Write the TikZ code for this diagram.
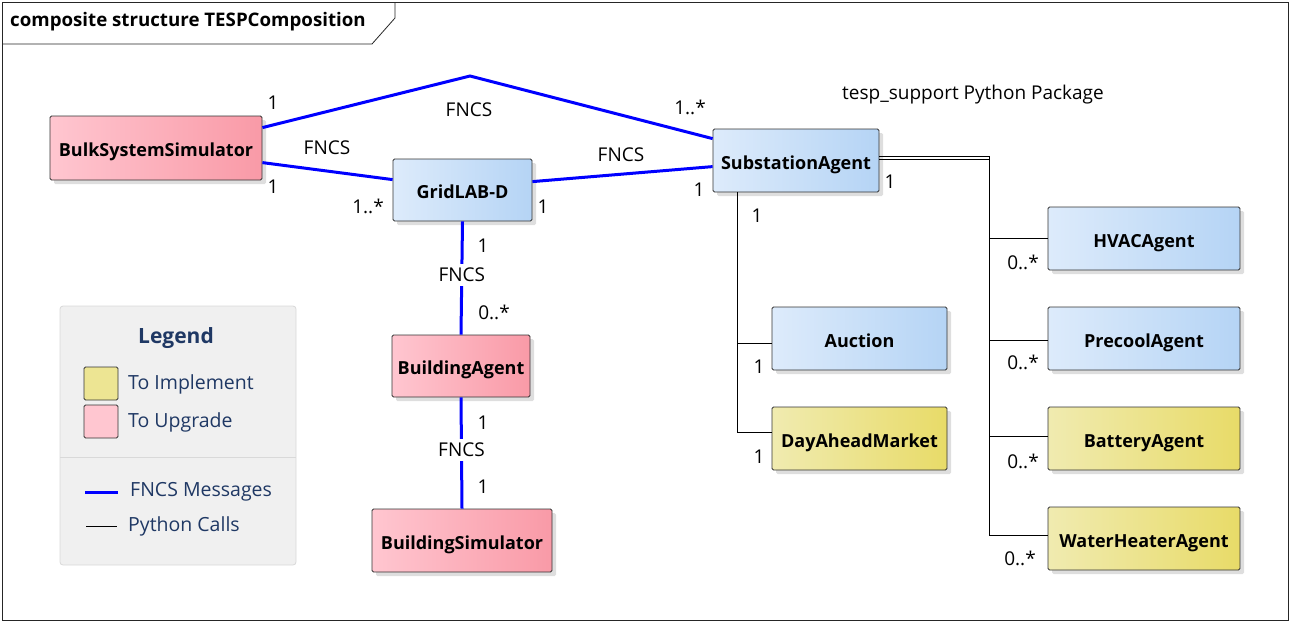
\documentclass[tikz,border=0pt]{standalone}
\usepackage{fontspec}
\setmainfont{Open Sans}
\usetikzlibrary{shadows,calc}
\definecolor{bluL}{HTML}{DDEBFB}
\definecolor{bluR}{HTML}{B5D4F5}
\definecolor{pnkL}{HTML}{FFC6D0}
\definecolor{pnkR}{HTML}{F99AA7}
\definecolor{ylwL}{HTML}{F0EBB0}
\definecolor{ylwR}{HTML}{E8DB68}
\definecolor{fncs}{HTML}{0000FF}
\definecolor{legtxt}{HTML}{1F3864}
\definecolor{leggray}{HTML}{F0F0F0}
\tikzset{
  cls/.style={draw=black!80, line width=0.8pt, rounded corners=1.5pt,
    font=\fontsize{18}{21}\selectfont\bfseries, inner sep=0pt,
    text height=17pt, text depth=0pt,
    drop shadow={shadow xshift=4pt, shadow yshift=-4pt, fill=black!13, opacity=1}},
  bluebox/.style={cls, left color=bluL, right color=bluR},
  pinkbox/.style={cls, left color=pnkL, right color=pnkR},
  yellowbox/.style={cls, left color=ylwL, right color=ylwR},
  fncsline/.style={draw=fncs, line width=3pt},
  pyline/.style={draw=black, line width=0.8pt},
  lbl/.style={font=\fontsize{19}{22}\selectfont, inner sep=0pt},
  gaplbl/.style={lbl, fill=white, inner xsep=2pt, inner ysep=4pt},
  legtext/.style={anchor=west, font=\fontsize{19.5}{22}\selectfont, text=legtxt, inner sep=0pt},
}
\begin{document}
\begin{tikzpicture}[x=1pt,y=-1pt]
\useasboundingbox (0,0) rectangle (1290,622);
% frame
\draw[black!85, line width=0.8pt] (2,2) rectangle (1288,620);
\draw[black!85, line width=0.8pt] (2,44) -- (372,44) -- (395,18) -- (395,2);
\node[anchor=west, font=\fontsize{18.7}{21}\selectfont\bfseries, inner sep=0pt] (title) at (10,22) {composite structure TESPComposition};
\node[anchor=center, font=\fontsize{19}{22}\selectfont, inner sep=0pt] (pkg) at (973,95) {tesp\_support Python Package};

% coordinates
\coordinate (apex) at (470,76);

% nodes
\node[pinkbox, minimum width=212pt, minimum height=64pt] (bulk) at (156,148) {BulkSystemSimulator};
\node[bluebox, minimum width=139pt, minimum height=62pt] (grid) at (462.5,190) {GridLAB-D};
\node[bluebox, minimum width=166pt, minimum height=63pt] (sub) at (796,160.5) {SubstationAgent};
\node[pinkbox, minimum width=138pt, minimum height=62pt] (bagent) at (461,366) {BuildingAgent};
\node[pinkbox, minimum width=180pt, minimum height=63pt] (bsim) at (462,540.5) {BuildingSimulator};
\node[bluebox, minimum width=175pt, minimum height=63pt] (auction) at (859.5,338.5) {Auction};
\node[yellowbox, minimum width=175pt, minimum height=63pt] (dam) at (859.5,438.5) {DayAheadMarket};
\node[bluebox, minimum width=192pt, minimum height=63pt] (hvac) at (1144,238.5) {HVACAgent};
\node[bluebox, minimum width=192pt, minimum height=63pt] (precool) at (1144,338.5) {PrecoolAgent};
\node[yellowbox, minimum width=192pt, minimum height=63pt] (battery) at (1144,438.5) {BatteryAgent};
\node[yellowbox, minimum width=192pt, minimum height=63pt] (wh) at (1144,538.5) {WaterHeaterAgent};

% FNCS connectors
\draw[fncsline] ($(bulk.north east)+(0,12)$) -- (apex) -- ($(sub.north west)+(0,10)$);
\draw[fncsline] ($(bulk.north east)+(0,47)$) -- ($(grid.north west)+(0,21)$);
\draw[fncsline] ($(grid.north east)+(0,23)$) -- ($(sub.north west)+(0,38)$);
\draw[fncsline] (grid.south) -- node[gaplbl, pos=0.47] (f4) {FNCS} (bagent.north);
\draw[fncsline] (bagent.south) -- node[gaplbl, pos=0.47] (f5) {FNCS} (bsim.north);

% Python call connectors
\draw[pyline] ($(sub.north east)+(0,28)$) -- ++(110,0) coordinate (t1) |- (hvac.west);
\draw[pyline] ($(sub.north east)+(0,31)$) -- ++(110,0) coordinate (t2) |- ($(precool.west)+(0,1.5)$);
\draw[pyline] ($(sub.north east)+(0,31)$) -- (t2) |- ($(battery.west)+(0,-2.5)$);
\draw[pyline] ($(sub.north east)+(0,31)$) -- (t2) |- ($(wh.west)+(0,-3.5)$);
\draw[pyline] ($(sub.south west)+(25,0)$) |- ($(auction.west)+(0,4.5)$);
\draw[pyline] ($(sub.south west)+(25,0)$) |- ($(dam.west)+(0,-6.5)$);

% FNCS labels
\node[lbl] (f1) at (469,110) {FNCS};
\node[lbl] (f2) at (327,148) {FNCS};
\node[lbl] (f3) at (621,155) {FNCS};

% multiplicities
\node[lbl] (m1) at (273,103) {1};
\node[lbl] (m2) at (690,107) {1..*};
\node[lbl] (m3) at (273,187) {1};
\node[lbl] (m4) at (368,206) {1..*};
\node[lbl] (m5) at (543,207) {1};
\node[lbl] (m6) at (699,190) {1};
\node[lbl] (m7) at (483,246) {1};
\node[lbl] (m8) at (494,312) {0..*};
\node[lbl] (m9) at (483,423) {1};
\node[lbl] (m10) at (483,487) {1};
\node[lbl] (m11) at (890,182) {1};
\node[lbl] (m12) at (757,216) {1};
\node[lbl] (m13) at (759,367) {1};
\node[lbl] (m14) at (759,457) {1};
\node[lbl] (m15) at (1023,262) {0..*};
\node[lbl] (m16) at (1023,362) {0..*};
\node[lbl] (m17) at (1023,461) {0..*};
\node[lbl] (m18) at (1020,558) {0..*};

% legend
\draw[draw=black!15, fill=leggray, rounded corners=3pt, line width=0.8pt] (60,306) rectangle (296,565);
\draw[black!15, line width=0.8pt] (60,457) -- (296,457);
\node[font=\fontsize{21}{24}\selectfont\bfseries, text=legtxt, inner sep=0pt] (legt) at (176,338) {Legend};
\node[draw=black!80, fill=ylwL!60!ylwR, rounded corners=1.5pt, minimum width=34pt, minimum height=33pt, inner sep=0pt, line width=0.8pt] (sw1) at (101,383.5) {};
\node[draw=black!80, fill=pnkL, rounded corners=1.5pt, minimum width=34pt, minimum height=33pt, inner sep=0pt, line width=0.8pt] (sw2) at (101,421.5) {};
\node[legtext] (lt1) at (128,384) {To Implement};
\node[legtext] (lt2) at (128,422) {To Upgrade};
\coordinate (lb1) at (85,492);
\coordinate (lb2) at (118,492);
\draw[fncsline] (lb1) -- (lb2);
\node[legtext] (lt3) at (130,492) {FNCS Messages};
\coordinate (lp1) at (86,526);
\coordinate (lp2) at (117,526);
\draw[pyline] (lp1) -- (lp2);
\node[legtext] (lt4) at (128,526) {Python Calls};
\end{tikzpicture}
\end{document}
